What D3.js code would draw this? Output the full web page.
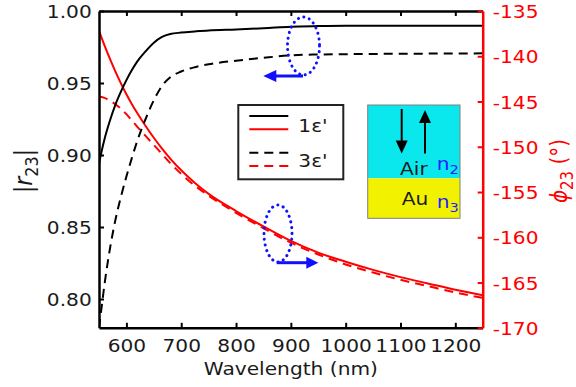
<!DOCTYPE html>
<html><head><meta charset="utf-8">
<script src="https://cdn.jsdelivr.net/npm/d3@7"></script>
<style>
body{margin:0;background:#fff}
svg{display:block}
text{font-family:"DejaVu Sans",Verdana,sans-serif}
</style>
</head><body>
<svg id="chart" width="576" height="387"></svg>
<script>
// Wavelength grid (nm)
const wavelength = [550,555,560,570,580,590,600,610,620,635,650,665,680,700,725,750,800,850,900,950,1000,1050,1100,1150,1200,1250];
// |r23| magnitude, 1ε' and 3ε'
const r1 = [0.894,0.903,0.911,0.924,0.935,0.944,0.952,0.959,0.965,0.972,0.978,0.982,0.984,0.985,0.9858,0.9865,0.9872,0.9880,0.9891,0.9895,0.9897,0.9897,0.9898,0.9898,0.9898,0.9898];
const r3 = [0.780,0.795,0.810,0.835,0.855,0.871,0.885,0.898,0.910,0.925,0.938,0.948,0.954,0.958,0.961,0.963,0.9655,0.9675,0.9692,0.9698,0.9700,0.9702,0.9703,0.9704,0.9705,0.9706];
// phase φ23 (degrees), 1ε' and 3ε'
const phi1 = [-137.2,-138.0,-138.8,-140.3,-141.7,-143.0,-144.2,-145.3,-146.3,-147.7,-149.0,-150.2,-151.3,-152.6,-154.0,-155.2,-157.1,-158.8,-160.4,-161.7,-162.7,-163.6,-164.4,-165.1,-165.8,-166.4];
const phi3 = [-144.5,-144.5,-144.6,-144.9,-145.3,-145.8,-146.4,-147.1,-147.8,-148.8,-149.8,-150.8,-151.8,-153.0,-154.3,-155.4,-157.3,-159.0,-160.6,-161.9,-163.0,-163.9,-164.7,-165.4,-166.1,-166.7];

const xTicks = [600,700,800,900,1000,1100,1200];
const yLeftTicks = [0.80,0.85,0.90,0.95,1.00];
const yRightTicks = [-170,-165,-160,-155,-150,-145,-140,-135];
const legendLabels = ["1\u03b5'","3\u03b5'"];

const SX = 1.12; // horizontal text stretch
const svg = d3.select("#chart");
const m = {left:99, right:482.7, top:11, bottom:327.8};
const x = d3.scaleLinear().domain([550,1250]).range([m.left,m.right]);
const yL = d3.scaleLinear().domain([0.78,1.0]).range([m.bottom,m.top]);
const yR = d3.scaleLinear().domain([-170,-135]).range([m.bottom,m.top]);

svg.append("defs").append("clipPath").attr("id","plot")
  .append("rect").attr("x",m.left).attr("y",m.top)
  .attr("width",m.right-m.left).attr("height",m.bottom-m.top);

// curves
const lineL = d3.line().x((d,i)=>x(wavelength[i])).y(d=>yL(d)).curve(d3.curveMonotoneX);
const lineR = d3.line().x((d,i)=>x(wavelength[i])).y(d=>yR(d)).curve(d3.curveMonotoneX);
const curves = svg.append("g").attr("clip-path","url(#plot)").attr("fill","none").attr("stroke-width",2);
curves.append("path").attr("d",lineR(phi3)).attr("stroke","#ff0000").attr("stroke-dasharray","9,6");
curves.append("path").attr("d",lineR(phi1)).attr("stroke","#ff0000");
curves.append("path").attr("d",lineL(r3)).attr("stroke","#000").attr("stroke-dasharray","9,6");
curves.append("path").attr("d",lineL(r1)).attr("stroke","#000");

// axes
const fs = 18;
function styleAxis(g, color){
  g.select(".domain").attr("stroke",color).attr("stroke-width",2.5);
  g.selectAll(".tick line").attr("stroke",color).attr("stroke-width",2);
  g.selectAll(".tick text").attr("fill",color).style("font-size",fs+"px")
    .style("font-family",'"DejaVu Sans",Verdana,sans-serif');
}
const gTop = svg.append("g").attr("transform",`translate(0,${m.top})`)
  .call(d3.axisTop(x).tickValues(xTicks).tickSize(-5).tickSizeOuter(0).tickFormat(""));
styleAxis(gTop,"#000");
const gBot = svg.append("g").attr("transform",`translate(0,${m.bottom})`)
  .call(d3.axisBottom(x).tickValues(xTicks).tickSize(-5).tickSizeOuter(0).tickFormat(d=>String(d)));
styleAxis(gBot,"#1a1a1a");
gBot.select(".domain").attr("stroke","#000");
gBot.selectAll(".tick line").attr("stroke","#000");
gBot.selectAll(".tick text").attr("y",0).attr("dy",null)
  .attr("transform",`translate(0,${352-m.bottom}) scale(${SX},1)`);

const gLeft = svg.append("g").attr("transform",`translate(${m.left},0)`)
  .call(d3.axisLeft(yL).tickValues(yLeftTicks).tickSize(-5).tickSizeOuter(0).tickFormat(d3.format(".2f")));
styleAxis(gLeft,"#1a1a1a");
gLeft.select(".domain").attr("stroke","#000");
gLeft.selectAll(".tick line").attr("stroke","#000");
gLeft.selectAll(".tick text").attr("x",-6.5).attr("dy","0.36em")
  .attr("transform",`scale(${SX},1)`);

const gRight = svg.append("g").attr("transform",`translate(${m.right},0)`)
  .call(d3.axisRight(yR).tickValues(yRightTicks).tickSize(-5).tickSizeOuter(0).tickFormat(d=>String(d)));
styleAxis(gRight,"#ff0000");
gRight.selectAll(".tick text").attr("x",9).attr("dy","0.36em")
  .attr("transform",`scale(${SX},1)`);

// axis titles
svg.append("text").attr("transform",`translate(${(m.left+m.right)/2},375) scale(${SX},1)`)
  .attr("text-anchor","middle").style("font-size",fs+"px").attr("fill","#1a1a1a")
  .text("Wavelength (nm)");

const tl = svg.append("text").attr("transform",`translate(32,171) scale(${SX},1) rotate(-90)`)
  .attr("text-anchor","middle").style("font-size","22px").attr("fill","#1a1a1a");
tl.append("tspan").text("|");
tl.append("tspan").style("font-style","italic").text("r");
tl.append("tspan").attr("dy",5).style("font-size","16px").text("23");
tl.append("tspan").attr("dy",-5).text("|");

const tr = svg.append("text").attr("transform",`translate(567,171) scale(${SX},1) rotate(-90)`)
  .attr("text-anchor","middle").style("font-size","20px").attr("fill","#ff0000");
tr.append("tspan").style("font-style","italic").text("\u03d5");
tr.append("tspan").attr("dy",5).style("font-size","15px").text("23");
tr.append("tspan").attr("dy",-5).text("\u00a0(\u00b0)");

// legend
const lg = svg.append("g");
lg.append("rect").attr("x",238.3).attr("y",105).attr("width",105).attr("height",74.3)
  .attr("fill","#fff").attr("stroke","#222").attr("stroke-width",2);
const legRows = [
  {y:116, c:"#000", dash:null},
  {y:129.3, c:"#ff0000", dash:null},
  {y:152.7, c:"#000", dash:"9,6"},
  {y:166, c:"#ff0000", dash:"9,6"}
];
legRows.forEach(r=>{
  lg.append("line").attr("x1",249.3).attr("x2",288.3).attr("y1",r.y).attr("y2",r.y)
    .attr("stroke",r.c).attr("stroke-width",2).attr("stroke-dasharray",r.dash);
});
[[131.5,legendLabels[0]],[166.5,legendLabels[1]]].forEach(([yb,t])=>{
  lg.append("text").attr("transform",`translate(298.3,${yb}) scale(${SX},1)`)
    .style("font-size",fs+"px").attr("fill","#1a1a1a").text(t);
});

// layer sketch: air over gold
const ins = svg.append("g");
ins.append("rect").attr("x",367.7).attr("y",105).attr("width",92.3).attr("height",73.3).attr("fill","#0ae8ee");
ins.append("rect").attr("x",367.7).attr("y",178.3).attr("width",92.3).attr("height",40).attr("fill","#f2f200");
ins.append("rect").attr("x",367.7).attr("y",105).attr("width",92.3).attr("height",113.3)
  .attr("fill","none").attr("stroke","#808080").attr("stroke-width",1);
function arrow(g, x1,y1,x2,y2, color, w, headL, headW){
  const a = Math.atan2(y2-y1,x2-x1);
  const bx = x2 - headL*Math.cos(a), by = y2 - headL*Math.sin(a);
  g.append("line").attr("x1",x1).attr("y1",y1).attr("x2",bx+Math.cos(a)).attr("y2",by+Math.sin(a))
    .attr("stroke",color).attr("stroke-width",w);
  const px = -Math.sin(a)*headW/2, py = Math.cos(a)*headW/2;
  g.append("path").attr("d",`M${x2},${y2}L${bx+px},${by+py}L${bx-px},${by-py}Z`).attr("fill",color);
}
arrow(ins,401.7,109,401.7,153.5,"#000",2,13,12);
arrow(ins,425,153.5,425,110,"#000",2,13,12);
function layerLabel(xp,yb,main,subx,subyb,sub){
  ins.append("text").attr("transform",`translate(${xp},${yb}) scale(${SX},1)`)
    .style("font-size",fs+"px").attr("fill","#1a1a1a").text(main);
  const t = ins.append("text").attr("transform",`translate(${subx},${subyb}) scale(${SX},1)`)
    .style("font-size",fs+"px").attr("fill","#1f1fff");
  t.append("tspan").text("n");
  t.append("tspan").attr("dy",4).style("font-size","13px").text(sub);
}
layerLabel(400,175,"Air",436.7,170,"2");
layerLabel(401.7,205,"Au",436.7,208,"3");

// dotted ellipses with direction arrows
const ann = svg.append("g");
ann.append("ellipse").attr("cx",303.5).attr("cy",46).attr("rx",16).attr("ry",29)
  .attr("fill","none").attr("stroke","#1010ff").attr("stroke-width",3)
  .attr("stroke-dasharray","0.1,5.6").attr("stroke-linecap","round");
arrow(ann,303,76,263.3,76,"#1010ff",3,13,12);
ann.append("ellipse").attr("cx",278).attr("cy",233.5).attr("rx",14).attr("ry",28.5)
  .attr("fill","none").attr("stroke","#1010ff").attr("stroke-width",3)
  .attr("stroke-dasharray","0.1,5.6").attr("stroke-linecap","round");
arrow(ann,276.7,262.7,318.3,262.7,"#1010ff",3,12,12);
</script>
</body></html>
